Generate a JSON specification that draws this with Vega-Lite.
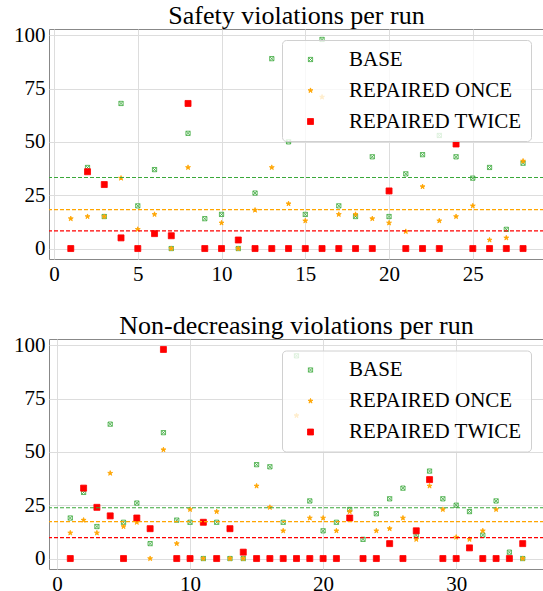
{
  "$schema": "https://vega.github.io/schema/vega-lite/v6.json",
  "padding": {"left": 13, "top": 2, "right": 0, "bottom": 0},
  "config": {
    "font": "Liberation Serif",
    "style": {"guide-label": {"font": "Liberation Serif", "fontSize": 21, "fill": "#000000"}, "group-title": {"font": "Liberation Serif"}},
    "view": {"stroke": "#888888", "strokeWidth": 1},
    "axis": {"labelFont": "Liberation Serif", "labelFontSize": 21, "labelColor": "#000000", "tickSize": 0, "domain": false, "grid": true, "gridColor": "#dddddd", "gridWidth": 1, "labelPadding": 4, "labelFlush": false, "labelOverlap": false},
    "title": {"font": "Liberation Serif", "fontSize": 26, "fontWeight": "normal", "color": "#000000", "anchor": "middle", "baseline": "alphabetic", "offset": -4.5},
    "legend": {"labelFont": "Liberation Serif", "labelFontSize": 21, "labelColor": "#000000", "labelLimit": 400, "fillColor": "rgba(255,255,255,0.8)", "strokeColor": "#d0d0d0", "cornerRadius": 4, "padding": 9, "rowPadding": 9, "symbolOffset": 9, "labelOffset": 28, "symbolStrokeWidth": 0.8}
  },
  "datasets": {
    "safety": [
      {"run":1,"series":"BASE","v":0},{"run":2,"series":"BASE","v":38},{"run":3,"series":"BASE","v":15},{"run":4,"series":"BASE","v":68},{"run":5,"series":"BASE","v":20},{"run":6,"series":"BASE","v":37},{"run":7,"series":"BASE","v":0},{"run":8,"series":"BASE","v":54},{"run":9,"series":"BASE","v":14},{"run":10,"series":"BASE","v":16},{"run":11,"series":"BASE","v":0},{"run":12,"series":"BASE","v":26},{"run":13,"series":"BASE","v":89},{"run":14,"series":"BASE","v":50},{"run":15,"series":"BASE","v":16},{"run":16,"series":"BASE","v":98},{"run":17,"series":"BASE","v":20},{"run":18,"series":"BASE","v":15},{"run":19,"series":"BASE","v":43},{"run":20,"series":"BASE","v":15},{"run":21,"series":"BASE","v":35},{"run":22,"series":"BASE","v":44},{"run":23,"series":"BASE","v":53},{"run":24,"series":"BASE","v":43},{"run":25,"series":"BASE","v":33},{"run":26,"series":"BASE","v":38},{"run":27,"series":"BASE","v":9},{"run":28,"series":"BASE","v":40},
      {"run":1,"series":"REPAIRED ONCE","v":14},{"run":2,"series":"REPAIRED ONCE","v":15},{"run":3,"series":"REPAIRED ONCE","v":15},{"run":4,"series":"REPAIRED ONCE","v":33},{"run":5,"series":"REPAIRED ONCE","v":9},{"run":6,"series":"REPAIRED ONCE","v":16},{"run":7,"series":"REPAIRED ONCE","v":0},{"run":8,"series":"REPAIRED ONCE","v":38},{"run":9,"series":"REPAIRED ONCE","v":0},{"run":10,"series":"REPAIRED ONCE","v":12},{"run":11,"series":"REPAIRED ONCE","v":0},{"run":12,"series":"REPAIRED ONCE","v":18},{"run":13,"series":"REPAIRED ONCE","v":38},{"run":14,"series":"REPAIRED ONCE","v":21},{"run":15,"series":"REPAIRED ONCE","v":13},{"run":16,"series":"REPAIRED ONCE","v":71},{"run":17,"series":"REPAIRED ONCE","v":16},{"run":18,"series":"REPAIRED ONCE","v":16},{"run":19,"series":"REPAIRED ONCE","v":14},{"run":20,"series":"REPAIRED ONCE","v":12},{"run":21,"series":"REPAIRED ONCE","v":8},{"run":22,"series":"REPAIRED ONCE","v":29},{"run":23,"series":"REPAIRED ONCE","v":13},{"run":24,"series":"REPAIRED ONCE","v":15},{"run":25,"series":"REPAIRED ONCE","v":20},{"run":26,"series":"REPAIRED ONCE","v":4},{"run":27,"series":"REPAIRED ONCE","v":5},{"run":28,"series":"REPAIRED ONCE","v":41},
      {"run":1,"series":"REPAIRED TWICE","v":0},{"run":2,"series":"REPAIRED TWICE","v":36},{"run":3,"series":"REPAIRED TWICE","v":30},{"run":4,"series":"REPAIRED TWICE","v":5},{"run":5,"series":"REPAIRED TWICE","v":0},{"run":6,"series":"REPAIRED TWICE","v":7},{"run":7,"series":"REPAIRED TWICE","v":6},{"run":8,"series":"REPAIRED TWICE","v":68},{"run":9,"series":"REPAIRED TWICE","v":0},{"run":10,"series":"REPAIRED TWICE","v":0},{"run":11,"series":"REPAIRED TWICE","v":4},{"run":12,"series":"REPAIRED TWICE","v":0},{"run":13,"series":"REPAIRED TWICE","v":0},{"run":14,"series":"REPAIRED TWICE","v":0},{"run":15,"series":"REPAIRED TWICE","v":0},{"run":16,"series":"REPAIRED TWICE","v":0},{"run":17,"series":"REPAIRED TWICE","v":0},{"run":18,"series":"REPAIRED TWICE","v":0},{"run":19,"series":"REPAIRED TWICE","v":0},{"run":20,"series":"REPAIRED TWICE","v":27},{"run":21,"series":"REPAIRED TWICE","v":0},{"run":22,"series":"REPAIRED TWICE","v":0},{"run":23,"series":"REPAIRED TWICE","v":0},{"run":24,"series":"REPAIRED TWICE","v":49},{"run":25,"series":"REPAIRED TWICE","v":0},{"run":26,"series":"REPAIRED TWICE","v":0},{"run":27,"series":"REPAIRED TWICE","v":0},{"run":28,"series":"REPAIRED TWICE","v":0}
    ],
    "safety_mean": [
      {"series":"BASE","v":33.3},{"series":"REPAIRED ONCE","v":18.2},{"series":"REPAIRED TWICE","v":8.3}
    ],
    "nondec": [
      {"run":1,"series":"BASE","v":19},{"run":2,"series":"BASE","v":31},{"run":3,"series":"BASE","v":15},{"run":4,"series":"BASE","v":63},{"run":5,"series":"BASE","v":17},{"run":6,"series":"BASE","v":26},{"run":7,"series":"BASE","v":7},{"run":8,"series":"BASE","v":59},{"run":9,"series":"BASE","v":18},{"run":10,"series":"BASE","v":17},{"run":11,"series":"BASE","v":0},{"run":12,"series":"BASE","v":17},{"run":13,"series":"BASE","v":0},{"run":14,"series":"BASE","v":0},{"run":15,"series":"BASE","v":44},{"run":16,"series":"BASE","v":43},{"run":17,"series":"BASE","v":17},{"run":18,"series":"BASE","v":95},{"run":19,"series":"BASE","v":27},{"run":20,"series":"BASE","v":13},{"run":21,"series":"BASE","v":17},{"run":22,"series":"BASE","v":23},{"run":23,"series":"BASE","v":9},{"run":24,"series":"BASE","v":21},{"run":25,"series":"BASE","v":28},{"run":26,"series":"BASE","v":33},{"run":27,"series":"BASE","v":11},{"run":28,"series":"BASE","v":41},{"run":29,"series":"BASE","v":28},{"run":30,"series":"BASE","v":25},{"run":31,"series":"BASE","v":22},{"run":32,"series":"BASE","v":11},{"run":33,"series":"BASE","v":27},{"run":34,"series":"BASE","v":3},{"run":35,"series":"BASE","v":0},
      {"run":1,"series":"REPAIRED ONCE","v":12},{"run":2,"series":"REPAIRED ONCE","v":18},{"run":3,"series":"REPAIRED ONCE","v":12},{"run":4,"series":"REPAIRED ONCE","v":40},{"run":5,"series":"REPAIRED ONCE","v":15},{"run":6,"series":"REPAIRED ONCE","v":17},{"run":7,"series":"REPAIRED ONCE","v":0},{"run":8,"series":"REPAIRED ONCE","v":51},{"run":9,"series":"REPAIRED ONCE","v":7},{"run":10,"series":"REPAIRED ONCE","v":23},{"run":11,"series":"REPAIRED ONCE","v":0},{"run":12,"series":"REPAIRED ONCE","v":22},{"run":13,"series":"REPAIRED ONCE","v":0},{"run":14,"series":"REPAIRED ONCE","v":0},{"run":15,"series":"REPAIRED ONCE","v":34},{"run":16,"series":"REPAIRED ONCE","v":24},{"run":17,"series":"REPAIRED ONCE","v":13},{"run":18,"series":"REPAIRED ONCE","v":67},{"run":19,"series":"REPAIRED ONCE","v":19},{"run":20,"series":"REPAIRED ONCE","v":19},{"run":21,"series":"REPAIRED ONCE","v":13},{"run":22,"series":"REPAIRED ONCE","v":22},{"run":23,"series":"REPAIRED ONCE","v":0},{"run":24,"series":"REPAIRED ONCE","v":13},{"run":25,"series":"REPAIRED ONCE","v":14},{"run":26,"series":"REPAIRED ONCE","v":19},{"run":27,"series":"REPAIRED ONCE","v":9},{"run":28,"series":"REPAIRED ONCE","v":34},{"run":29,"series":"REPAIRED ONCE","v":23},{"run":30,"series":"REPAIRED ONCE","v":10},{"run":31,"series":"REPAIRED ONCE","v":9},{"run":32,"series":"REPAIRED ONCE","v":13},{"run":33,"series":"REPAIRED ONCE","v":23},{"run":34,"series":"REPAIRED ONCE","v":0},{"run":35,"series":"REPAIRED ONCE","v":0},
      {"run":1,"series":"REPAIRED TWICE","v":0},{"run":2,"series":"REPAIRED TWICE","v":33},{"run":3,"series":"REPAIRED TWICE","v":24},{"run":4,"series":"REPAIRED TWICE","v":20},{"run":5,"series":"REPAIRED TWICE","v":0},{"run":6,"series":"REPAIRED TWICE","v":19},{"run":7,"series":"REPAIRED TWICE","v":14},{"run":8,"series":"REPAIRED TWICE","v":98},{"run":9,"series":"REPAIRED TWICE","v":0},{"run":10,"series":"REPAIRED TWICE","v":0},{"run":11,"series":"REPAIRED TWICE","v":17},{"run":12,"series":"REPAIRED TWICE","v":0},{"run":13,"series":"REPAIRED TWICE","v":14},{"run":14,"series":"REPAIRED TWICE","v":3},{"run":15,"series":"REPAIRED TWICE","v":0},{"run":16,"series":"REPAIRED TWICE","v":0},{"run":17,"series":"REPAIRED TWICE","v":0},{"run":18,"series":"REPAIRED TWICE","v":0},{"run":19,"series":"REPAIRED TWICE","v":0},{"run":20,"series":"REPAIRED TWICE","v":0},{"run":21,"series":"REPAIRED TWICE","v":0},{"run":22,"series":"REPAIRED TWICE","v":19},{"run":23,"series":"REPAIRED TWICE","v":0},{"run":24,"series":"REPAIRED TWICE","v":0},{"run":25,"series":"REPAIRED TWICE","v":7},{"run":26,"series":"REPAIRED TWICE","v":0},{"run":27,"series":"REPAIRED TWICE","v":13},{"run":28,"series":"REPAIRED TWICE","v":37},{"run":29,"series":"REPAIRED TWICE","v":0},{"run":30,"series":"REPAIRED TWICE","v":0},{"run":31,"series":"REPAIRED TWICE","v":5},{"run":32,"series":"REPAIRED TWICE","v":0},{"run":33,"series":"REPAIRED TWICE","v":0},{"run":34,"series":"REPAIRED TWICE","v":0},{"run":35,"series":"REPAIRED TWICE","v":7}
    ],
    "nondec_mean": [
      {"series":"BASE","v":23.8},{"series":"REPAIRED ONCE","v":17.3},{"series":"REPAIRED TWICE","v":9.8}
    ]
  },
  "spacing": 27,
  "resolve": {"scale": {"fill": "independent", "stroke": "independent", "shape": "independent", "size": "independent", "color": "independent", "x": "independent", "y": "independent"}},
  "vconcat": [
    {
      "width": 495, "height": 230,
      "title": {"text": "Safety violations per run", "font": "Liberation Serif"},
      "layer": [
        {
          "data": {"name": "safety"},
          "mark": {"type": "point", "filled": true, "strokeWidth": 0.8, "opacity": 1},
          "encoding": {
            "x": {"field": "run", "type": "quantitative", "scale": {"domain": [-0.3, 29.25], "nice": false, "zero": false}, "axis": {"values": [0, 5, 10, 15, 20, 25], "title": null, "labelFont": "Liberation Serif", "labelFontSize": 21}},
            "y": {"field": "v", "type": "quantitative", "scale": {"domain": [-4.9, 102.9], "nice": false, "zero": false}, "axis": {"values": [0, 25, 50, 75, 100], "title": null, "labelFont": "Liberation Serif", "labelFontSize": 21}},
            "fill": {"field": "series", "type": "nominal", "scale": {"domain": ["BASE", "REPAIRED ONCE", "REPAIRED TWICE"], "range": ["transparent", "#ffa500", "#ff0000"]}, "legend": {"title": null, "orient": "none", "legendX": 233, "legendY": 11}},
            "stroke": {"field": "series", "type": "nominal", "scale": {"domain": ["BASE", "REPAIRED ONCE", "REPAIRED TWICE"], "range": ["#3aa83a", "#ffa500", "#ff0000"]}, "legend": {"title": null, "orient": "none", "legendX": 233, "legendY": 11}},
            "shape": {"field": "series", "type": "nominal", "scale": {"domain": ["BASE", "REPAIRED ONCE", "REPAIRED TWICE"], "range": ["M-1,-1H1V1H-1Z M-1,-1L1,1 M-1,1L1,-1", "M0,-1L0.225,-0.309L0.951,-0.309L0.363,0.118L0.588,0.809L0,0.382L-0.588,0.809L-0.363,0.118L-0.951,-0.309L-0.225,-0.309Z", "square"]}, "legend": {"title": null, "orient": "none", "legendX": 233, "legendY": 11}},
            "size": {"field": "series", "type": "nominal", "scale": {"domain": ["BASE", "REPAIRED ONCE", "REPAIRED TWICE"], "range": [18, 36, 20]}, "legend": {"title": null, "orient": "none", "legendX": 233, "legendY": 11}}
          }
        },
        {
          "data": {"name": "safety_mean"},
          "mark": {"type": "rule", "strokeDash": [4, 2], "strokeWidth": 1.2},
          "encoding": {
            "y": {"field": "v", "type": "quantitative"},
            "color": {"field": "series", "type": "nominal", "scale": {"domain": ["BASE", "REPAIRED ONCE", "REPAIRED TWICE"], "range": ["#3aa83a", "#ffa500", "#ff0000"]}, "legend": null}
          }
        }
      ]
    },
    {
      "width": 495, "height": 230,
      "title": {"text": "Non-decreasing violations per run", "font": "Liberation Serif"},
      "layer": [
        {
          "data": {"name": "nondec"},
          "mark": {"type": "point", "filled": true, "strokeWidth": 0.8, "opacity": 1},
          "encoding": {
            "x": {"field": "run", "type": "quantitative", "scale": {"domain": [-0.6, 36.6], "nice": false, "zero": false}, "axis": {"values": [0, 10, 20, 30], "title": null, "labelFont": "Liberation Serif", "labelFontSize": 21}},
            "y": {"field": "v", "type": "quantitative", "scale": {"domain": [-4.9, 102.9], "nice": false, "zero": false}, "axis": {"values": [0, 25, 50, 75, 100], "title": null, "labelFont": "Liberation Serif", "labelFontSize": 21}},
            "fill": {"field": "series", "type": "nominal", "scale": {"domain": ["BASE", "REPAIRED ONCE", "REPAIRED TWICE"], "range": ["transparent", "#ffa500", "#ff0000"]}, "legend": {"title": null, "orient": "none", "legendX": 233, "legendY": 11.5}},
            "stroke": {"field": "series", "type": "nominal", "scale": {"domain": ["BASE", "REPAIRED ONCE", "REPAIRED TWICE"], "range": ["#3aa83a", "#ffa500", "#ff0000"]}, "legend": {"title": null, "orient": "none", "legendX": 233, "legendY": 11.5}},
            "shape": {"field": "series", "type": "nominal", "scale": {"domain": ["BASE", "REPAIRED ONCE", "REPAIRED TWICE"], "range": ["M-1,-1H1V1H-1Z M-1,-1L1,1 M-1,1L1,-1", "M0,-1L0.225,-0.309L0.951,-0.309L0.363,0.118L0.588,0.809L0,0.382L-0.588,0.809L-0.363,0.118L-0.951,-0.309L-0.225,-0.309Z", "square"]}, "legend": {"title": null, "orient": "none", "legendX": 233, "legendY": 11.5}},
            "size": {"field": "series", "type": "nominal", "scale": {"domain": ["BASE", "REPAIRED ONCE", "REPAIRED TWICE"], "range": [18, 36, 20]}, "legend": {"title": null, "orient": "none", "legendX": 233, "legendY": 11.5}}
          }
        },
        {
          "data": {"name": "nondec_mean"},
          "mark": {"type": "rule", "strokeDash": [4, 2], "strokeWidth": 1.2},
          "encoding": {
            "y": {"field": "v", "type": "quantitative"},
            "color": {"field": "series", "type": "nominal", "scale": {"domain": ["BASE", "REPAIRED ONCE", "REPAIRED TWICE"], "range": ["#3aa83a", "#ffa500", "#ff0000"]}, "legend": null}
          }
        }
      ]
    }
  ]
}
